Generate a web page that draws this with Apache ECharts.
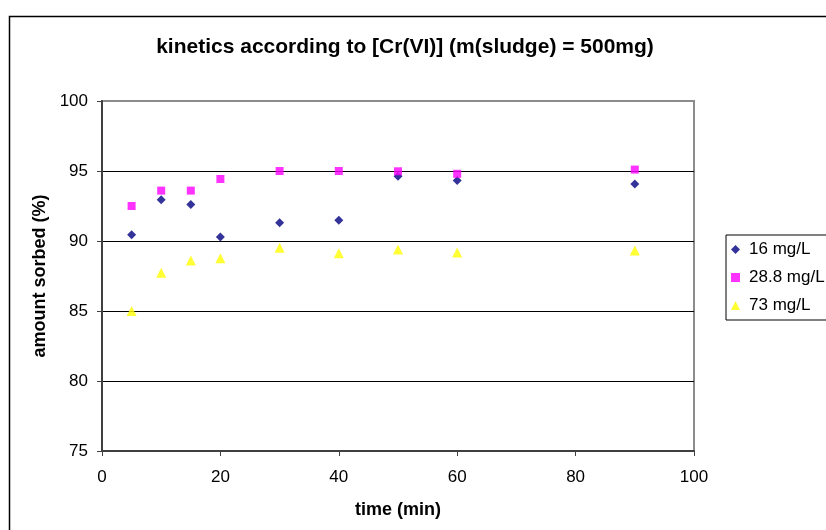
<!DOCTYPE html>
<html>
<head>
<meta charset="utf-8">
<script src="https://cdn.jsdelivr.net/npm/echarts@6/dist/echarts.min.js"></script>
<style>
html,body{margin:0;padding:0;background:#fff;}
#chart{width:826px;height:530px;}
</style>
</head>
<body>
<div id="chart"></div>
<script>
var times = [5, 10, 15, 20, 30, 40, 50, 60, 90];
var s16 = [90.45, 92.95, 92.6, 90.29, 91.3, 91.48, 94.62, 94.33, 94.07];
var s288 = [92.5, 93.6, 93.6, 94.43, 95.0, 95.0, 94.98, 94.8, 95.1];
var s73 = [85.0, 87.74, 88.6, 88.76, 89.52, 89.12, 89.4, 89.17, 89.33];
var seriesNames = ['16 mg/L', '28.8 mg/L', '73 mg/L'];
var xTicks = [0, 20, 40, 60, 80, 100];
var yTicks = [75, 80, 85, 90, 95, 100];

function pairs(xs, ys){ return xs.map(function(x,i){ return [x, ys[i]]; }); }

var diamond = 'path://M0,-1L1,0L0,1L-1,0Z';
var FONT = '"Liberation Sans", Arial, sans-serif';

var chart = echarts.init(document.getElementById('chart'), null, {renderer:'canvas'});
chart.setOption({
  animation: false,
  backgroundColor: '#fff',
  textStyle: {fontFamily: FONT},
  graphic: [{
    type: 'rect', left: 7, top: 14, z: -10,
    shape: {width: 840, height: 540},
    style: {fill: 'none', stroke: '#000', lineWidth: 1.5}
  }],
  title: {
    text: 'kinetics according to [Cr(VI)] (m(sludge) = 500mg)',
    left: 400, top: 32, textAlign: 'center',
    textStyle: {fontFamily: FONT, fontSize: 21, fontWeight: 'bold', color: '#000'}
  },
  grid: {
    left: 102, right: 132, top: 101, bottom: 79,
    show: true, borderColor: '#8c8c8c', borderWidth: 2, backgroundColor: 'transparent'
  },
  xAxis: {
    type: 'value', min: 0, max: 100, interval: 20,
    name: 'time (min)', nameLocation: 'middle', nameGap: 50,
    nameTextStyle: {fontFamily: FONT, fontSize: 18, fontWeight: 'bold', color: '#000'},
    axisLine: {show: true, lineStyle: {color: '#404040', width: 2}},
    axisTick: {show: true, inside: false, length: 5, lineStyle: {color: '#404040', width: 1}},
    axisLabel: {fontFamily: FONT, fontSize: 17, color: '#000', margin: 18,
      formatter: function(v){ return xTicks.indexOf(v) >= 0 ? String(v) : ''; }},
    splitLine: {show: false}
  },
  yAxis: {
    type: 'value', min: 75, max: 100, interval: 5,
    name: 'amount sorbed (%)', nameLocation: 'middle', nameGap: 53, nameRotate: 90,
    nameTextStyle: {fontFamily: FONT, fontSize: 18, fontWeight: 'bold', color: '#000'},
    axisLine: {show: true, lineStyle: {color: '#404040', width: 2}},
    axisTick: {show: true, inside: false, length: 5, lineStyle: {color: '#404040', width: 1}},
    axisLabel: {fontFamily: FONT, fontSize: 17, color: '#000', margin: 14,
      formatter: function(v){ return yTicks.indexOf(v) >= 0 ? String(v) : ''; }},
    splitLine: {show: true, lineStyle: {color: ['#000','#000','#000','#000','#000','rgba(0,0,0,0)'], width: 1}}
  },
  legend: {
    orient: 'vertical', left: 726, top: 235,
    data: [
      {name: seriesNames[0], icon: diamond},
      {name: seriesNames[1], icon: 'rect'},
      {name: seriesNames[2], icon: 'triangle'}
    ],
    borderColor: '#000', borderWidth: 1, borderRadius: 0,
    padding: [6, 30, 6, 5],
    itemWidth: 9, itemHeight: 9, itemGap: 11,
    textStyle: {fontFamily: FONT, fontSize: 17, color: '#000', padding: [0,0,0,4]}
  },
  series: [
    {name: seriesNames[0], type: 'scatter', symbol: diamond, symbolSize: 9,
     itemStyle: {color: '#000080'}, data: pairs(times, s16)},
    {name: seriesNames[1], type: 'scatter', symbol: 'rect', symbolSize: 8,
     itemStyle: {color: '#ff00ff'}, data: pairs(times, s288)},
    {name: seriesNames[2], type: 'scatter', symbol: 'triangle', symbolSize: 10,
     itemStyle: {color: '#ffff00'}, data: pairs(times, s73)}
  ]
});
</script>
</body>
</html>
